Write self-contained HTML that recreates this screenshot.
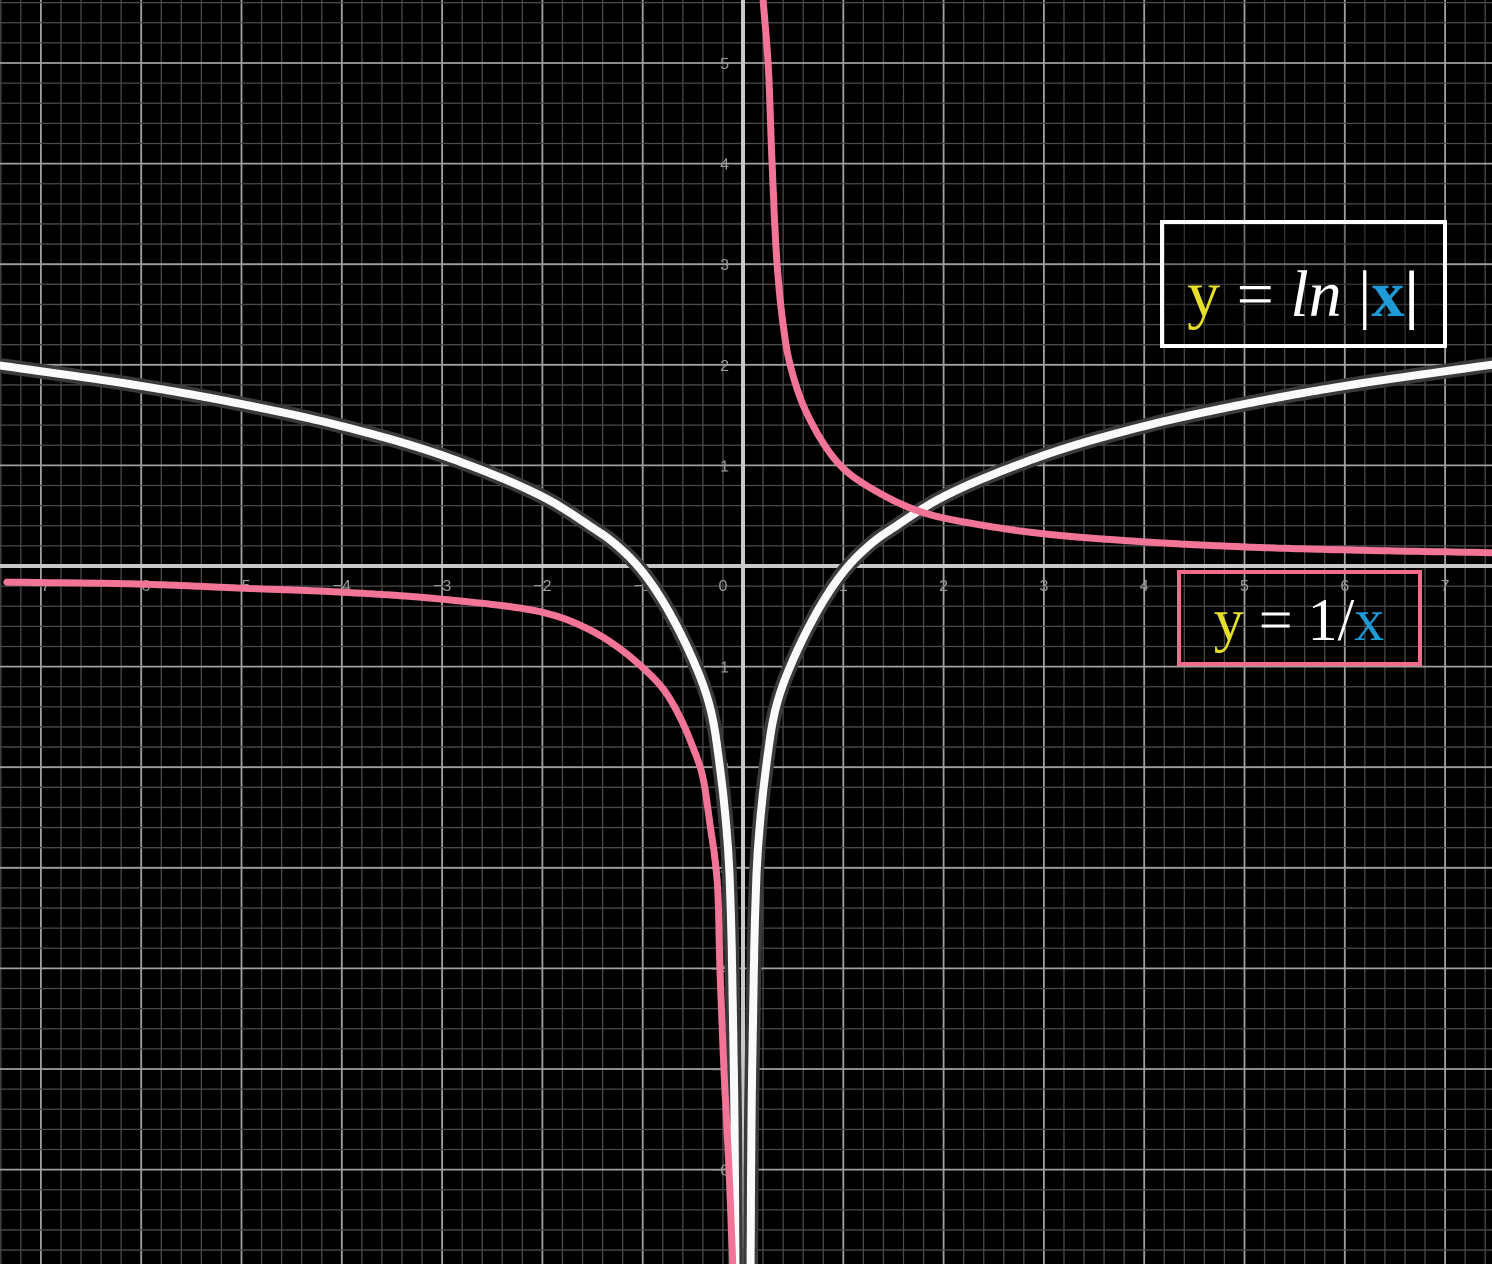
<!DOCTYPE html>
<html><head><meta charset="utf-8"><style>
html,body{margin:0;padding:0;background:#000;}
svg{display:block;}
</style></head><body>
<svg id="chart" width="1492" height="1264" viewBox="0 0 1492 1264" xmlns="http://www.w3.org/2000/svg">
<rect x="0" y="0" width="1492" height="1264" fill="#000"/>
<g id="grid"></g>
<g id="axes"></g>
<g id="ticks" font-family="Liberation Sans, sans-serif" font-size="16" fill="#9a9a9a"></g>
<g id="curves"></g>
<g>
<rect x="1162" y="222" width="283" height="124" fill="#000" fill-opacity="0.3" stroke="#fff" stroke-width="4"/>
<text x="1303" y="316" text-anchor="middle" font-family="Liberation Serif, serif" font-size="66"><tspan fill="#e6e02a">y</tspan><tspan fill="#fff"> = </tspan><tspan fill="#fff" font-style="italic">ln</tspan><tspan fill="#fff"> |</tspan><tspan fill="#1e9ad6" font-weight="bold">x</tspan><tspan fill="#fff" font-weight="bold">|</tspan></text>
</g>
<g>
<rect x="1179" y="572" width="241" height="92" fill="none" stroke="#f06b8c" stroke-width="4"/>
<text x="1299" y="640" text-anchor="middle" font-family="Liberation Serif, serif" font-size="60"><tspan fill="#e6e02a">y</tspan><tspan fill="#fff"> = 1/</tspan><tspan fill="#1e9ad6">x</tspan></text>
</g>
</svg>
<script>
// ln|x| branch (mirrored for negative x)
const lnX = [0.075,0.085,0.1,0.12,0.15,0.23,0.33,0.5,0.8,1.05,1.3,1.5,2,3,4,5,6,7.6];
const lnY = [-7,-5.5,-4.5,-3.5,-2.8,-2,-1.4,-0.93,-0.35,0,0.24,0.38,0.69,1.1,1.39,1.61,1.79,2.02];
// 1/x right branch
const recPosX = [0.2,0.25,0.29,0.34,0.4,0.47,0.64,0.97,1.37,1.8,2.36,3,4,5,6,7.6];
const recPosY = [5.63,5,4,3,2.4,2,1.51,1.0,0.72,0.53,0.41,0.32,0.24,0.19,0.16,0.13];
// 1/x left branch
const recNegX = [-7.34,-6,-5,-4,-3,-2,-1.62,-1.3,-1,-0.79,-0.63,-0.5,-0.41,-0.33,-0.26,-0.23,-0.19,-0.14,-0.1];
const recNegY = [-0.16,-0.18,-0.22,-0.26,-0.33,-0.46,-0.59,-0.77,-1.01,-1.23,-1.5,-1.8,-2.06,-2.56,-3.1,-4,-5,-6,-7];
const xTicks = [-7,-6,-5,-4,-3,-2,-1,0,1,2,3,4,5,6,7];
const yTicks = [-6,-5,-4,-3,-2,-1,1,2,3,4,5];

const NS='http://www.w3.org/2000/svg';
const OX=743, OY=566, UX=100.3, UY=100.6;
const sx=v=>OX+v*UX, sy=v=>OY-v*UY;
function mk(tag,attrs,parent){const e=document.createElementNS(NS,tag);for(const k in attrs)e.setAttribute(k,attrs[k]);parent.appendChild(e);return e;}

const grid=document.getElementById('grid');
for(let i=-40;i<=40;i++){
  const v=i/5, major=i%5===0;
  const x=sx(v); if(x<-2||x>1494) continue;
  const l=mk('line',{x1:x,y1:0,x2:x,y2:1264,stroke:major?'#a0a0a0':'#4a4a4a','stroke-width':major?1.8:1.3},grid);
  
  
}
for(let i=-40;i<=40;i++){
  const v=i/5, major=i%5===0;
  const y=sy(v); if(y<-2||y>1266) continue;
  const l=mk('line',{x1:0,y1:y,x2:1492,y2:y,stroke:major?'#a0a0a0':'#4a4a4a','stroke-width':major?1.8:1.3},grid);
  
  
}
const axes=document.getElementById('axes');
const xa=mk('line',{x1:0,y1:OY,x2:1492,y2:OY,stroke:'#c8c8c8','stroke-width':4},axes);


const ya=mk('line',{x1:OX,y1:0,x2:OX,y2:1264,stroke:'#c8c8c8','stroke-width':4},axes);



const ticks=document.getElementById('ticks');
xTicks.forEach(t=>{
  const e=mk('text',{x:sx(t)-(t===0?20:0),y:OY+25,'text-anchor':'middle'},ticks);
  e.textContent=t<0?'\u2212'+(-t):String(t);
  
  
});
yTicks.forEach(t=>{
  const e=mk('text',{x:OX-14,y:sy(t)+6,'text-anchor':'end'},ticks);
  e.textContent=t<0?'\u2212'+(-t):String(t);
  
  
});

// centripetal Catmull-Rom, sampled densely
function pathFrom(xs,ys){
  const p=xs.map((x,i)=>[sx(x),sy(ys[i])]);
  const n=p.length;
  const ext=[[2*p[0][0]-p[1][0],2*p[0][1]-p[1][1]],...p,[2*p[n-1][0]-p[n-2][0],2*p[n-1][1]-p[n-2][1]]];
  const tj=(a,b)=>Math.pow(Math.hypot(b[0]-a[0],b[1]-a[1]),0.5)||1e-4;
  let d='M'+p[0][0].toFixed(1)+','+p[0][1].toFixed(1);
  for(let i=1;i<ext.length-2;i++){
    const P0=ext[i-1],P1=ext[i],P2=ext[i+1],P3=ext[i+2];
    const t0=0,t1=t0+tj(P0,P1),t2=t1+tj(P1,P2),t3=t2+tj(P2,P3);
    const S=24;
    for(let s=1;s<=S;s++){
      const t=t1+(t2-t1)*s/S;
      const L=(A,B,ta,tb)=>[(tb-t)/(tb-ta)*A[0]+(t-ta)/(tb-ta)*B[0],(tb-t)/(tb-ta)*A[1]+(t-ta)/(tb-ta)*B[1]];
      const A1=L(P0,P1,t0,t1),A2=L(P1,P2,t1,t2),A3=L(P2,P3,t2,t3);
      const B1=L(A1,A2,t0,t2),B2=L(A2,A3,t1,t3);
      const C=L(B1,B2,t1,t2);
      d+=' L'+C[0].toFixed(1)+','+C[1].toFixed(1);
    }
  }
  return d;
}
const curves=document.getElementById('curves');
const lnRight=pathFrom(lnX,lnY);
const lnLeft=pathFrom(lnX.map(v=>-v),lnY);
[lnRight,lnLeft].forEach((d,i)=>{
  const o=mk('path',{d:d,fill:'none',stroke:'#3a3a3a','stroke-width':15,'stroke-linecap':'round','stroke-linejoin':'round'},curves);
  
  
  const w=mk('path',{d:d,fill:'none',stroke:'#fafafa','stroke-width':8,'stroke-linecap':'round','stroke-linejoin':'round'},curves);
  
  
});
const r1=mk('path',{d:pathFrom(recPosX,recPosY),fill:'none',stroke:'#f27597','stroke-width':7,'stroke-linecap':'round','stroke-linejoin':'round'},curves);


const r2=mk('path',{d:pathFrom(recNegX,recNegY),fill:'none',stroke:'#f27597','stroke-width':7,'stroke-linecap':'round','stroke-linejoin':'round'},curves);


</script>
</body></html>
